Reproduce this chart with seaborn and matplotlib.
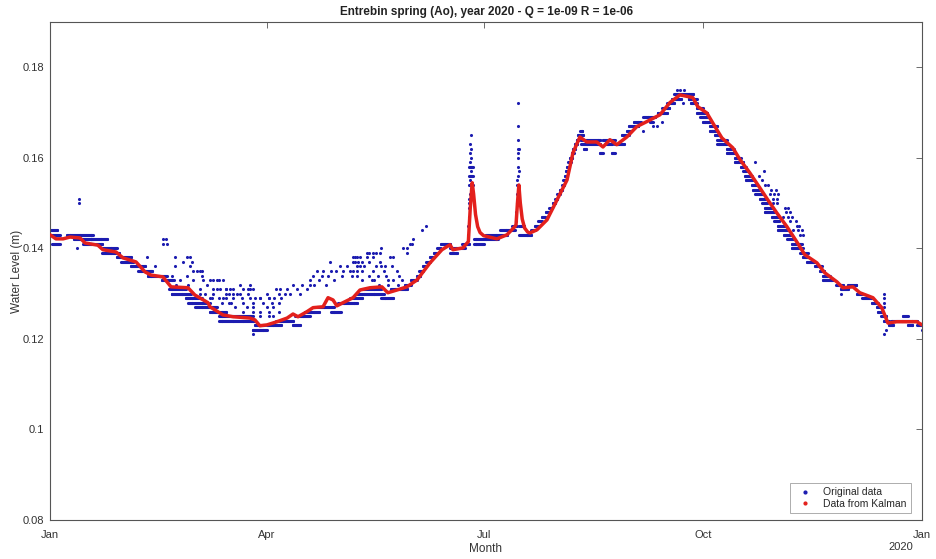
import numpy as np
import pandas as pd
import matplotlib
matplotlib.use("Agg")
import matplotlib.pyplot as plt
from matplotlib.lines import Line2D
import seaborn as sns

# ---------------- data ----------------
title = "Entrebin spring (Ao), year 2020 - Q = 1e-09 R = 1e-06"
month_ticks = [0, 91, 182, 274, 366]
month_labels = ["Jan", "Apr", "Jul", "Oct", "Jan"]
y_ticks = [0.08, 0.10, 0.12, 0.14, 0.16, 0.18]
y_labels = ["0.08", "0.1", "0.12", "0.14", "0.16", "0.18"]

# Kalman-filtered curve (day of year, level in m)
kalman_day = [0, 2.5, 5.5, 8.4, 12.6, 14.7, 20.1, 22.2, 27.7, 30.6, 36.1, 39.9, 42.4,
              47.4, 50.8, 57.9, 60.8, 66.3, 67.1, 72.6, 76.8, 83.9, 86.0, 88.1, 91.1,
              95.3, 99.5, 102.0, 104.1, 107.8, 110.4, 114.6, 116.7, 118.8, 120.4, 123.0,
              127.2, 130.1, 134.3, 139.3, 141.8, 145.6, 149.8, 154.0, 159.5, 164.5, 167.9,
              169.1, 173.3, 175.6, 176.4, 177.2, 177.8, 178.6, 179.5, 180.5, 182.0, 187.6,
              191.8, 195.1, 195.6, 196.2, 196.8, 197.4, 198.2, 199.2, 200.5, 201.4, 204.4,
              208.6, 212.8, 217.0, 219.5, 222.4, 225.3, 229.5, 232.1, 235.0, 237.9, 242.1,
              246.3, 250.5, 256.0, 260.2, 264.4, 269.8, 271.9, 275.7, 279.1, 282.0, 286.6,
              289.6, 293.7, 297.9, 301.3, 305.1, 309.3, 313.5, 316.8, 321.9, 325.2, 330.3,
              332.8, 337.0, 339.9, 345.4, 349.1, 351.7, 355.4, 363.8, 366.0]
kalman_level = [0.1430, 0.1421, 0.1421, 0.1425, 0.1423, 0.1412, 0.1407, 0.1397, 0.1392,
                0.1379, 0.1370, 0.1348, 0.1341, 0.1337, 0.1315, 0.1313, 0.1297, 0.1280,
                0.1271, 0.1253, 0.1249, 0.1246, 0.1242, 0.1229, 0.1231, 0.1238, 0.1246,
                0.1255, 0.1249, 0.1260, 0.1269, 0.1271, 0.1291, 0.1286, 0.1273, 0.1280,
                0.1291, 0.1308, 0.1313, 0.1315, 0.1302, 0.1308, 0.1315, 0.1330, 0.1368,
                0.1397, 0.1408, 0.1397, 0.1401, 0.1415, 0.1490, 0.1545, 0.1520, 0.1475,
                0.1448, 0.1435, 0.1428, 0.1421, 0.1430, 0.1448, 0.1452, 0.1500, 0.1540,
                0.1500, 0.1465, 0.1445, 0.1436, 0.1434, 0.1441, 0.1463, 0.1507, 0.1551,
                0.1611, 0.1646, 0.1635, 0.1635, 0.1624, 0.1640, 0.1629, 0.1646, 0.1669,
                0.1680, 0.1695, 0.1722, 0.1739, 0.1733, 0.1713, 0.1699, 0.1669, 0.1644,
                0.1622, 0.1596, 0.1567, 0.1534, 0.1507, 0.1478, 0.1448, 0.1414, 0.1386,
                0.1368, 0.1346, 0.1326, 0.1313, 0.1315, 0.1302, 0.1291, 0.1269, 0.1235,
                0.1238, 0.1238, 0.1231]

# Original data: constant-level runs (start day, end day, level)
run_start = [0, 0, 1, 7, 10, 14, 17, 22, 22, 28, 30, 34, 37, 41, 47, 50, 51, 57, 58, 61,
             67, 71, 71, 85, 86,
             91, 95, 102, 103, 107, 112, 118, 121, 126, 129, 131, 139, 143, 149, 151.5,
             154, 155, 156.5, 158, 159.5, 161, 162.5, 164, 168, 168, 172, 173,
             176, 176, 176, 178, 178, 183, 189, 194, 197, 197,
             202, 203.5, 205, 206.5, 208, 209.5, 211, 212, 213, 214, 215, 215.5, 216,
             216.5, 217, 217.5, 218.2, 219, 219.5, 220.3, 221, 221.5, 222.5,
             223, 223, 224, 231, 232, 233, 236, 237, 240, 242, 243, 245, 249, 252, 255,
             257, 259, 261, 262,
             268, 269, 271.5, 271.5, 273, 274, 277, 277, 279, 280, 280, 284, 284, 287.5,
             287.5, 290, 291, 291.6, 292, 294.6, 295, 296, 298, 299, 300, 300, 303, 304,
             305.5, 305.5, 308, 309.5, 311.4, 311.4, 315, 316, 317.7, 321, 323, 324.4,
             324.4, 330, 332, 334.9, 338.6, 341, 345, 347, 347.5, 349, 350,
             352, 353, 358, 360, 364]
run_end = [3, 4, 4, 18, 18, 22, 24, 28, 29, 34, 35, 40, 43, 49, 52, 57, 59, 63, 66, 70,
           74, 85, 86, 91, 90,
           97, 102, 105, 109, 113, 119, 122, 129, 131, 140, 139, 144, 150, 151.5, 154,
           155.5, 156.5, 158, 159.5, 161, 162.5, 164, 168, 172, 171, 174, 176,
           177.5, 177.5, 177.5, 188, 182, 192, 195, 196, 202, 199,
           203.5, 205, 206.5, 208, 209.5, 211, 212, 213, 214, 215, 215.8, 216.3, 216.8,
           217.3, 217.8, 218.5, 219.2, 219.8, 220.5, 221.3, 222, 224, 223.5,
           231, 231, 225, 232, 237, 236, 237, 241, 243, 244, 247, 248, 254, 253, 259,
           260, 262, 265, 270,
           271.5, 271.5, 274, 276, 276, 277, 280, 280, 281, 284, 284, 287, 287.5, 290,
           291, 292, 293, 294.6, 295, 296.5, 298, 299, 300.5, 301, 303.4, 304, 305.5,
           306, 309, 309.7, 311.5, 312, 315.6, 316, 318, 318, 321, 324, 325, 327.3,
           328.6, 333, 335, 338.6, 341, 345, 347.5, 348.5, 349.5, 351, 352,
           354, 364, 360, 362, 366]
run_level = [0.144, 0.143, 0.141, 0.143, 0.142, 0.141, 0.142, 0.140, 0.139, 0.138, 0.137,
             0.136, 0.135, 0.134, 0.133, 0.131, 0.130, 0.129, 0.128, 0.127, 0.126, 0.125,
             0.124, 0.122, 0.123,
             0.123, 0.124, 0.123, 0.125, 0.126, 0.127, 0.126, 0.128, 0.129, 0.130, 0.131,
             0.129, 0.131, 0.132, 0.133, 0.134, 0.135, 0.136, 0.137, 0.138, 0.139, 0.140,
             0.141, 0.140, 0.139, 0.140, 0.141,
             0.158, 0.156, 0.154, 0.142, 0.141, 0.143, 0.144, 0.145, 0.143, 0.145,
             0.144, 0.145, 0.146, 0.147, 0.148, 0.149, 0.150, 0.151, 0.152, 0.153, 0.154,
             0.155, 0.156, 0.157, 0.158, 0.159, 0.160, 0.161, 0.162, 0.163, 0.164, 0.165,
             0.166,
             0.164, 0.163, 0.162, 0.161, 0.164, 0.163, 0.161, 0.163, 0.165, 0.166, 0.167,
             0.168, 0.169, 0.168, 0.170, 0.171, 0.172, 0.173, 0.174,
             0.173, 0.172, 0.171, 0.170, 0.169, 0.168, 0.167, 0.166, 0.165, 0.164, 0.163,
             0.162, 0.161, 0.160, 0.159, 0.158, 0.157, 0.156, 0.155, 0.154, 0.153, 0.152,
             0.151, 0.150, 0.149, 0.148, 0.147, 0.146, 0.145, 0.144, 0.143, 0.142, 0.141,
             0.140, 0.139, 0.138, 0.137, 0.136, 0.135, 0.134, 0.133, 0.132, 0.131, 0.132,
             0.130, 0.129, 0.128, 0.127, 0.126, 0.125, 0.124,
             0.123, 0.124, 0.125, 0.123, 0.123]

# Original data: isolated readings (day, level)
dot_day = [12.3, 12.3, 11.5, 47.5, 49, 47.5, 48.5, 40.7,
           52.5, 56, 57.5, 58.7, 59.6, 44, 52.5, 58.7, 60, 61.5, 63, 64, 51, 57.5, 64, 64.3,
           54.5, 60, 67, 68.5, 72.6, 53, 58, 66, 68.5, 71.3, 74, 75.5, 79.7,
           63, 68.4, 74, 77, 79.7, 83, 85, 64, 68, 71, 72.6, 77, 80.4, 84, 88, 92, 94,
           67, 72, 75, 76, 81, 85, 93, 96, 67, 77.6, 82.6, 85, 91, 93.6,
           81, 85, 88, 92, 96, 84, 88, 92, 93.6, 85,
           70, 71, 84, 63, 70, 74, 77, 81, 84, 65, 75, 78.5, 83, 67, 74, 86,
           88, 89.5, 91, 92, 95, 96, 96.5, 97, 98.6, 99.5, 100.7, 102, 103.5, 105, 105.7,
           108, 109, 109, 110.4, 111, 112, 113, 114, 114.6, 116, 116.7, 117.5, 118, 119,
           120, 121.7, 122.5, 123, 124.6, 126, 126.7, 127.2, 128, 128.8, 129.3,
           127, 129, 130, 133, 135.5, 133, 134, 135.5, 137, 138.5, 139, 128, 131, 134,
           138.5, 142.7, 144, 130, 132, 137, 139, 140.6, 143.5, 127, 129, 131, 135.5, 140,
           129, 134, 137.6, 141, 131, 135, 141.8, 145.6, 146.5, 147.7, 148, 149.8, 151,
           152.3, 156, 158, 150, 152, 136, 138, 142, 144, 146,
           176.5, 176.3, 176.6, 176.4, 176.7, 176.2, 176.8, 176.1, 176.9, 176.3, 176.0,
           175.8, 175.8, 175.7, 175.6, 175.5,
           196.5, 196.5, 196.6, 196.4, 196.8, 196.5, 196.6, 196.3, 196.7, 196.4, 196.2,
           196.1, 196.0, 195.9, 195.8, 195.7,
           231, 236, 263, 264.5, 266, 265.6, 269.4, 253, 249, 257, 254.7, 274.9, 277.8,
           296, 299.6, 297.5, 299, 300, 301.5, 302.5, 304.6, 302, 304, 305.5, 303.4, 305,
           303.4, 305, 308.4, 309.7, 309, 310.5, 307.6, 309.7, 311.4, 310.5, 313, 313.5,
           314.3, 311.8, 314, 315.6, 314.7, 316,
           332, 350, 350, 350, 350, 349.5, 350, 351, 366]
dot_level = [0.151, 0.150, 0.140, 0.142, 0.141, 0.141, 0.142, 0.138,
             0.138, 0.137, 0.138, 0.138, 0.137, 0.136, 0.136, 0.136, 0.135, 0.135, 0.135,
             0.135, 0.134, 0.134, 0.134, 0.133,
             0.133, 0.133, 0.133, 0.133, 0.133, 0.132, 0.132, 0.132, 0.131, 0.131, 0.131,
             0.131, 0.132,
             0.130, 0.130, 0.130, 0.130, 0.130, 0.131, 0.131, 0.129, 0.129, 0.129, 0.129,
             0.129, 0.129, 0.129, 0.129, 0.129, 0.129,
             0.128, 0.128, 0.128, 0.128, 0.128, 0.128, 0.128, 0.128, 0.127, 0.127, 0.127,
             0.127, 0.127, 0.127,
             0.126, 0.126, 0.126, 0.126, 0.126, 0.125, 0.125, 0.125, 0.125, 0.121,
             0.133, 0.133, 0.132, 0.131, 0.131, 0.131, 0.131, 0.131, 0.131, 0.130, 0.130,
             0.130, 0.130, 0.129, 0.129, 0.129,
             0.129, 0.128, 0.130, 0.129, 0.131, 0.130, 0.131, 0.129, 0.130, 0.131, 0.130,
             0.132, 0.131, 0.130, 0.132, 0.131, 0.132, 0.133, 0.134, 0.132, 0.135, 0.133,
             0.134, 0.135, 0.132, 0.134, 0.137, 0.135, 0.133, 0.135, 0.136, 0.134, 0.135,
             0.136, 0.135, 0.134, 0.137, 0.138, 0.136, 0.137,
             0.138, 0.138, 0.138, 0.138, 0.138, 0.139, 0.139, 0.139, 0.139, 0.139, 0.140,
             0.137, 0.137, 0.137, 0.137, 0.138, 0.138, 0.136, 0.136, 0.136, 0.136, 0.136,
             0.136, 0.135, 0.135, 0.135, 0.135, 0.135, 0.134, 0.134, 0.134, 0.134, 0.133,
             0.133, 0.133, 0.135, 0.134, 0.133, 0.140, 0.140, 0.141, 0.142, 0.144, 0.145,
             0.139, 0.141, 0.133, 0.132, 0.132, 0.133, 0.132,
             0.165, 0.163, 0.162, 0.161, 0.160, 0.159, 0.157, 0.155, 0.153, 0.152, 0.151,
             0.150, 0.149, 0.147, 0.145, 0.143,
             0.172, 0.167, 0.164, 0.162, 0.162, 0.161, 0.160, 0.158, 0.157, 0.156, 0.155,
             0.154, 0.152, 0.150, 0.148, 0.146,
             0.161, 0.161, 0.175, 0.175, 0.175, 0.172, 0.172, 0.167, 0.166, 0.168, 0.167,
             0.168, 0.166,
             0.159, 0.157, 0.156, 0.155, 0.154, 0.154, 0.153, 0.153, 0.152, 0.152, 0.152,
             0.151, 0.151, 0.150, 0.150, 0.149, 0.149, 0.148, 0.148, 0.147, 0.147, 0.147,
             0.146, 0.146, 0.145, 0.145, 0.144, 0.144, 0.144, 0.143, 0.143,
             0.130, 0.130, 0.129, 0.128, 0.127, 0.126, 0.121, 0.122, 0.122]

# ---------------- build tables ----------------
run_days, run_vals = [], []
for s, e, lv in zip(run_start, run_end, run_level):
    d = np.arange(s, e + 1e-9, 0.2)
    run_days.extend(d)
    run_vals.extend([lv] * len(d))
orig = pd.DataFrame({"day": list(run_days) + dot_day,
                     "level": list(run_vals) + dot_level})
kal = pd.DataFrame({"day": kalman_day, "level": kalman_level})

# ---------------- drawing ----------------
sns.set_theme(style="white")
plt.rcParams["font.family"] = ["Liberation Sans", "DejaVu Sans"]

BLUE = "#1c1cb0"
RED = "#e3201c"
EDGE = "#555555"
TXT = "#333333"

fig = plt.figure(figsize=(9.36, 5.59), dpi=100)
ax = fig.add_axes([50 / 936, 1 - 520 / 559, 872 / 936, 498 / 559])

sns.scatterplot(data=orig, x="day", y="level", color=BLUE, s=5, linewidth=0,
                marker="o", ax=ax, legend=False, zorder=2)
sns.lineplot(data=kal, x="day", y="level", color=RED, linewidth=2.5, ax=ax,
             legend=False, zorder=3, sort=False, estimator=None)

ax.set_xlim(0, 366)
ax.set_ylim(0.08, 0.19)
ax.set_xticks(month_ticks)
ax.set_xticklabels(month_labels)
ax.set_yticks(y_ticks)
ax.set_yticklabels(y_labels)
ax.tick_params(direction="in", length=4, width=0.6, colors=EDGE, labelcolor=TXT,
               labelsize=8, top=True, right=True)
ax.tick_params(axis="x", pad=7)
ax.tick_params(axis="y", pad=4)
for sp in ax.spines.values():
    sp.set_visible(True)
    sp.set_color(EDGE)
    sp.set_linewidth(0.8)

ax.set_xlabel("Month", fontsize=8.5, color=TXT)
ax.xaxis.set_label_coords(0.5, -0.046)
ax.set_ylabel("Water Level (m)", fontsize=8.5, color=TXT)
ax.yaxis.set_label_coords(-27 / 872, 0.5)
ax.set_title(title, fontsize=8.5, fontweight="bold", color="#222222", pad=5)
ax.text((913 - 50) / 872, -0.045, "2020", transform=ax.transAxes, ha="right",
        va="top", fontsize=8, color=TXT)

handles = [Line2D([], [], linestyle="None", marker=".", color=BLUE, markersize=4),
           Line2D([], [], linestyle="None", marker=".", color=RED, markersize=4)]
leg = ax.legend(handles, ["Original data", "Data from Kalman"], loc="lower right",
                bbox_to_anchor=((911 - 50) / 872, 0.014), borderaxespad=0,
                fontsize=7.5, frameon=True, fancybox=False, borderpad=0.4,
                handletextpad=0.8, labelspacing=0.15, handlelength=2.0)
leg.get_frame().set_edgecolor("#888888")
leg.get_frame().set_linewidth(0.6)

fig.savefig("out.png", dpi=100, facecolor="white")
